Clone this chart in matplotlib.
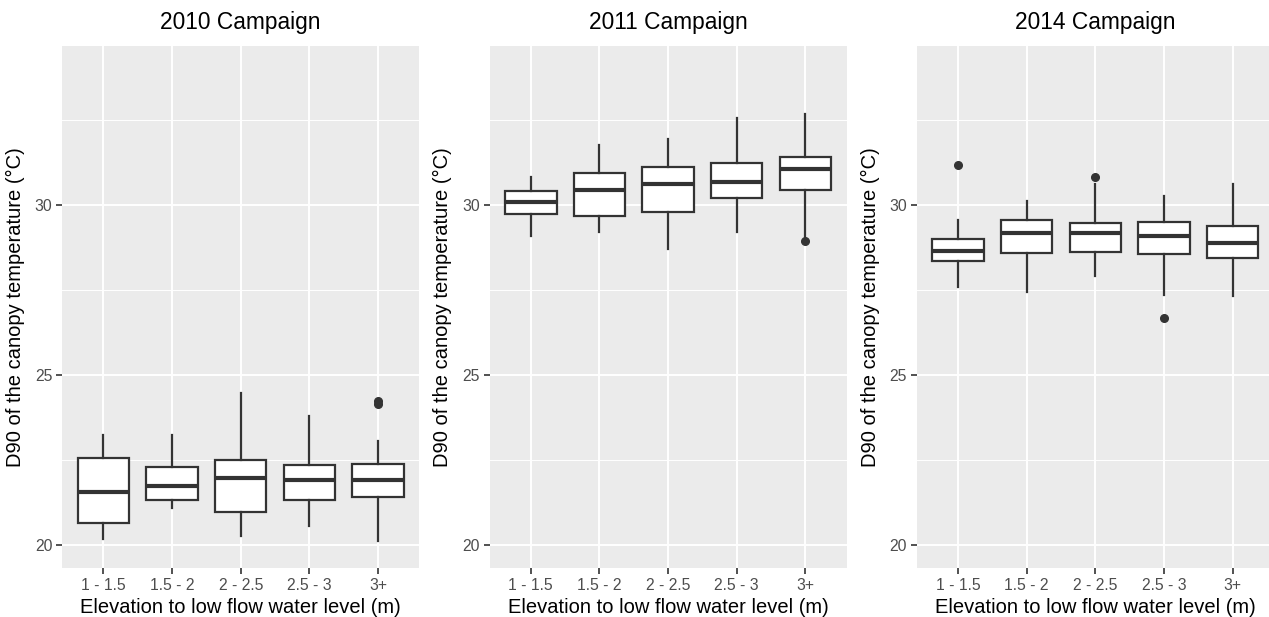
import matplotlib
matplotlib.use("Agg")
import matplotlib.pyplot as plt
from matplotlib.ticker import MultipleLocator

plt.rcParams['font.family'] = ['Liberation Sans', 'DejaVu Sans']

categories = ["1 - 1.5", "1.5 - 2", "2 - 2.5", "2.5 - 3", "3+"]
titles = ["2010 Campaign", "2011 Campaign", "2014 Campaign"]

# whislo, q1, med, q3, whishi, outliers per category
c2010_whislo = [20.18, 21.10, 20.25, 20.56, 20.12]
c2010_q1 = [20.63, 21.32, 20.97, 21.31, 21.40]
c2010_med = [21.57, 21.74, 21.98, 21.91, 21.91]
c2010_q3 = [22.55, 22.28, 22.49, 22.36, 22.38]
c2010_whishi = [23.24, 23.22, 24.46, 23.79, 23.06]
c2010_fliers = [[], [], [], [], [24.14, 24.23]]

c2011_whislo = [29.09, 29.21, 28.71, 29.21, 29.03]
c2011_q1 = [29.74, 29.69, 29.80, 30.21, 30.43]
c2011_med = [30.10, 30.44, 30.61, 30.69, 31.05]
c2011_q3 = [30.40, 30.94, 31.12, 31.24, 31.40]
c2011_whishi = [30.83, 31.76, 31.93, 32.55, 32.67]
c2011_fliers = [[], [], [], [], [28.93]]

c2014_whislo = [27.58, 27.45, 27.92, 27.35, 27.33]
c2014_q1 = [28.34, 28.58, 28.61, 28.55, 28.43]
c2014_med = [28.64, 29.17, 29.17, 29.09, 28.89]
c2014_q3 = [28.99, 29.55, 29.48, 29.51, 29.37]
c2014_whishi = [29.56, 30.11, 30.61, 30.28, 30.62]
c2014_fliers = [[31.18], [], [30.83], [26.67], []]

campaigns = [
    (c2010_whislo, c2010_q1, c2010_med, c2010_q3, c2010_whishi, c2010_fliers),
    (c2011_whislo, c2011_q1, c2011_med, c2011_q3, c2011_whishi, c2011_fliers),
    (c2014_whislo, c2014_q1, c2014_med, c2014_q3, c2014_whishi, c2014_fliers),
]

W, H = 1269, 617
fig = plt.figure(figsize=(W / 100, H / 100), dpi=100)

lefts = [62.2, 489.6, 916.8]
pw = 357.0
top, bottom = 46, 568

grey_line = "#333333"
for i, (wl, q1, med, q3, wh, fl) in enumerate(campaigns):
    ax = fig.add_axes([lefts[i] / W, 1 - bottom / H, pw / W, (bottom - top) / H])
    ax.set_facecolor("#EBEBEB")
    for s in ax.spines.values():
        s.set_visible(False)
    stats = []
    for k in range(len(categories)):
        stats.append(dict(whislo=wl[k], q1=q1[k], med=med[k], q3=q3[k],
                          whishi=wh[k], fliers=fl[k], label=categories[k]))
    pos = list(range(1, len(categories) + 1))
    ax.bxp(stats, positions=pos, widths=0.75, showcaps=False, patch_artist=True,
           boxprops=dict(facecolor="white", edgecolor=grey_line, linewidth=1.6),
           medianprops=dict(color=grey_line, linewidth=3.0, solid_capstyle="butt"),
           whiskerprops=dict(color=grey_line, linewidth=1.6),
           flierprops=dict(marker="o", markerfacecolor=grey_line,
                           markeredgecolor=grey_line, markersize=5.5),
           zorder=3)
    ax.set_xlim(0.4, 5.6)
    ax.set_ylim(19.32, 34.68)
    ax.yaxis.set_major_locator(MultipleLocator(5))
    ax.yaxis.set_minor_locator(MultipleLocator(2.5))
    ax.set_xticks(pos)
    ax.set_xticklabels(categories)
    ax.grid(which="major", color="white", linewidth=1.4, zorder=0)
    ax.grid(which="minor", axis="y", color="white", linewidth=0.7, zorder=0)
    ax.set_axisbelow(True)
    ax.tick_params(axis="both", which="major", length=4, width=1.2, color="#333333",
                   labelcolor="#4D4D4D", labelsize=11.3, pad=3)
    ax.tick_params(axis="y", which="minor", length=0)
    ax.set_title(titles[i], fontsize=16.4, color="black", pad=12)
    ax.set_xlabel("Elevation to low flow water level (m)", fontsize=14.5, labelpad=4)
    ax.set_ylabel("D90 of the canopy temperature (\u00b0C)", fontsize=14.5, labelpad=7)

fig.savefig("out.png", dpi=100, facecolor="white")
